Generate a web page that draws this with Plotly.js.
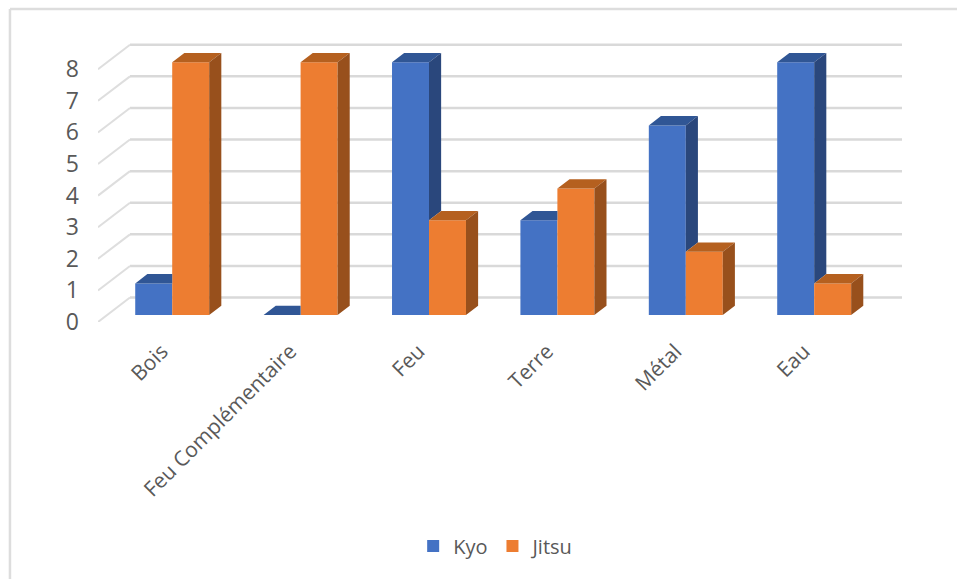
<!DOCTYPE html>
<html><head><meta charset="utf-8">
<script src="https://cdn.plot.ly/plotly-3.0.1.min.js"></script>
<style>html,body{margin:0;padding:0;background:#fff}#c{width:957px;height:579px}</style>
</head><body><div id="c"></div>
<script>
const categories = ['Bois','Feu Complémentaire','Feu','Terre','Métal','Eau'];
const kyo = [1,0,8,3,6,8];
const jitsu = [8,8,3,4,2,1];
const yTicks = [0,1,2,3,4,5,6,7,8];

// pseudo-3D geometry, in axis units
const barW = 0.288, depthX = 0.0945, depthY = 0.294;
const wallX = 0.2492, wallY = 0.552, floorY = -0.2215;
const xMin = -0.578, xMax = 5.684, yMax = 9.019;
const labelShift = -0.08;
const idx = categories.map((_, i) => i);

function poly(list){
  const x=[], y=[];
  list.forEach(p=>{ p.forEach(q=>{x.push(q[0]);y.push(q[1]);}); x.push(null); y.push(null); });
  return {x,y};
}
function face(list,color){
  const p = poly(list);
  return {type:'scatter',mode:'lines',x:p.x,y:p.y,fill:'toself',fillcolor:color,
    line:{width:0,color:color},hoverinfo:'skip',showlegend:false};
}
const kyoTop = idx.map(i=>{
  const L=i-barW,R=i,v=kyo[i],clip=v<jitsu[i];
  return [[L,v],[R,v],[clip?R:R+depthX,v+depthY],[L+depthX,v+depthY],[L,v]];
});
const kyoSide = idx.filter(i=>kyo[i]>jitsu[i]).map(i=>{
  const R=i,v=kyo[i],w=jitsu[i];
  return [[R,v],[R+depthX,v+depthY],[R+depthX,w+depthY],[R,w],[R,v]];
});
const jitsuTop = idx.map(i=>{
  const L=i,R=i+barW,v=jitsu[i];
  return [[L,v],[R,v],[R+depthX,v+depthY],[L+depthX,v+depthY],[L,v]];
});
const jitsuSide = idx.map(i=>{
  const R=i+barW,v=jitsu[i];
  return [[R,0],[R+depthX,depthY],[R+depthX,v+depthY],[R,v],[R,0]];
});

const traces = [
  {type:'bar',name:'Kyo',x:idx,y:kyo,marker:{color:'#4472C4'},hoverinfo:'x+y'},
  {type:'bar',name:'Jitsu',x:idx,y:jitsu,marker:{color:'#ED7D31'},hoverinfo:'x+y'},
  face(kyoTop,'#305695'),
  face(kyoSide,'#2A477C'),
  face(jitsuTop,'#B5601F'),
  face(jitsuSide,'#98501C')
];

const shapes = [];
yTicks.forEach(v=>{
  shapes.push({type:'line',layer:'below',xref:'x',yref:'y',x0:xMin+wallX,x1:xMax,y0:v+wallY,y1:v+wallY,
    line:{color:'#D9D9D9',width:2.5}});
  shapes.push({type:'line',layer:'below',xref:'x',yref:'y',x0:xMin,x1:xMin+wallX,y0:v+floorY,y1:v+wallY,
    line:{color:'#DEDEDE',width:2}});
});
// chart frame: top and left edges only
const frame = {color:'#DDDDDD',width:2.5};
shapes.push({type:'line',layer:'below',xref:'paper',yref:'paper',x0:-0.1095,x1:1.0684,y0:1.0719,y1:1.0719,line:frame});
shapes.push({type:'line',layer:'below',xref:'paper',yref:'paper',x0:-0.1095,x1:-0.1095,y0:1.0719,y1:-0.88,line:frame});

const layout = {
  width:957,height:579,margin:{l:98,r:55,t:30,b:257},
  paper_bgcolor:'#fff',plot_bgcolor:'rgba(0,0,0,0)',
  barmode:'group',bargap:0.424,bargroupgap:0,
  font:{family:'"Open Sans",sans-serif',size:20,color:'#595959'},
  xaxis:{range:[xMin,xMax],tickmode:'array',tickvals:idx.map(i=>i+labelShift),ticktext:categories,tickangle:-45,
    showgrid:false,zeroline:false,showline:false,ticks:'',ticklabelstandoff:12,tickfont:{size:21,color:'#595959'}},
  yaxis:{range:[floorY,yMax],tickmode:'array',tickvals:yTicks.map(v=>v+floorY),ticktext:yTicks.map(String),
    showgrid:false,zeroline:false,showline:false,ticks:'',ticklabelstandoff:18,tickfont:{size:23,color:'#595959'}},
  legend:{orientation:'h',x:0.392,xanchor:'left',y:-0.767,yanchor:'middle',font:{size:20,color:'#595959'},
    traceorder:'normal',bgcolor:'rgba(0,0,0,0)'},
  shapes:shapes,
  hovermode:'closest'
};
Plotly.newPlot('c',traces,layout,{displayModeBar:false});
</script></body></html>
